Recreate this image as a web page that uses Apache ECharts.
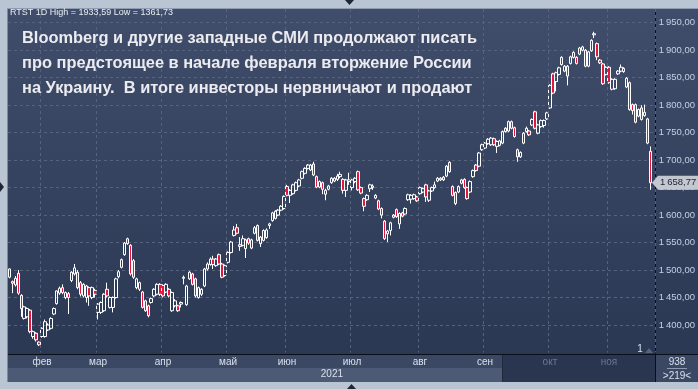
<!DOCTYPE html>
<html><head><meta charset="utf-8">
<script src="https://cdn.jsdelivr.net/npm/echarts@6/dist/echarts.min.js"></script>
<style>html,body{margin:0;padding:0;background:#bac5d3;}#c{width:698px;height:389px;}</style>
</head><body><div id="c"></div>
<script>
// [open, close, low, high]
const candles = [
[1487,1502,1485,1503],[1479,1476,1458,1481],[1473,1485,1470,1489],[1494,1458,1455,1500],[1454,1430,1415,1456],
[1412,1433,1410,1435],[1415,1430,1412,1432],[1427,1388,1385,1429],[1379,1388,1375,1390],[1385,1373,1370,1387],
[1369,1364,1361.73,1370],[1379,1394,1377,1396],[1379,1406,1377,1410],[1391,1400,1389,1403],[1394,1412,1392,1414],
[1420,1430,1418,1432],[1439,1462,1437,1463],[1458,1467,1455,1470],[1468,1459,1456,1474],[1450,1459,1447,1461],
[1457,1450,1420,1460],[1481,1496,1478,1498],[1493,1504,1490,1511],[1496,1468,1465,1500],[1477,1456,1452,1480],
[1453,1474,1450,1476],[1450,1471,1441,1473],[1468,1453,1435,1470],[1450,1468,1447,1470],[1463,1456,1450,1466],
[1423,1438,1410,1440],[1423,1441,1420,1443],[1426,1456,1424,1458],[1465,1453,1450,1477],[1432,1450,1430,1452],
[1432,1450,1423,1452],[1450,1484,1448,1486],[1488,1497,1485,1500],[1505,1519,1503,1521],[1528,1549,1526,1551],
[1557,1548,1546,1559],[1545,1493,1490,1547],[1517,1487,1484,1520],[1468,1484,1465,1486],[1465,1477,1462,1479],
[1460,1432,1430,1462],[1444,1426,1424,1446],[1435,1417,1414,1437],[1441,1448,1439,1450],[1453,1465,1451,1467],
[1456,1474,1454,1476],[1474,1456,1453,1476],[1472,1453,1450,1474],[1460,1474,1458,1476],[1465,1453,1450,1467],
[1426,1459,1424,1461],[1435,1444,1432,1447],[1435,1426,1424,1437],[1438,1441,1432,1443],[1485,1487,1474,1490],
[1437,1471,1435,1473],[1484,1496,1482,1498],[1493,1474,1472,1495],[1484,1453,1450,1486],[1450,1468,1448,1470],
[1456,1465,1453,1467],[1471,1502,1469,1504],[1502,1511,1499,1514],[1510,1520,1508,1523],[1520,1510,1502,1526],
[1508,1520,1506,1522],[1528,1511,1509,1530],[1511,1487,1485,1513],[1490,1508,1488,1510],[1514,1532,1512,1534],
[1532,1551,1530,1553],[1563,1573,1561,1580],[1577,1567,1565,1584],[1546,1543,1535,1560],[1545,1557,1543,1563],
[1539,1555,1522,1557],[1557,1549,1546,1559],[1540,1555,1538,1557],[1567,1577,1565,1580],[1581,1554,1552,1583],
[1548,1560,1542,1562],[1554,1572,1552,1574],[1559,1573,1557,1576],[1581,1584,1575,1586],[1590,1604,1588,1606],
[1594,1607,1592,1609],[1600,1609,1598,1611],[1609,1616,1607,1618],[1612,1634,1610,1636],[1652,1636,1634,1655],
[1636,1645,1622,1647],[1639,1655,1637,1657],[1645,1659,1643,1661],[1653,1664,1651,1666],[1667,1679,1665,1681],
[1676,1685,1674,1687],[1685,1691,1683,1693],[1682,1691,1680,1693],[1693,1673,1671,1697],[1670,1651,1649,1672],
[1651,1661,1649,1663],[1659,1647,1638,1661],[1638,1645,1627,1648],[1647,1653,1645,1655],
[1659,1667,1657,1669],[1662,1667,1660,1669],[1665,1671,1662,1675],[1670,1674,1667,1679],[1665,1645,1639,1667],
[1645,1664,1633,1666],[1661,1664,1655,1677],[1650,1664,1645,1666],[1661,1667,1658,1669],[1679,1646,1644,1681],
[1650,1640,1638,1652],[1630,1616,1607,1632],[1628,1636,1626,1638],[1648,1655,1642,1657],[1650,1653,1646,1656],
[1631,1636,1629,1638],[1626,1611,1609,1628],[1612,1600,1594,1614],[1589,1557,1555,1591],[1566,1571,1551,1573],
[1572,1586,1563,1588],[1596,1600,1594,1602],[1610,1597,1595,1612],[1584,1603,1575,1605],[1604,1598,1596,1606],
[1602,1612,1600,1614],[1628,1637,1626,1639],[1629,1636,1621,1638],[1630,1637,1628,1639],[1633,1626,1624,1635],
[1639,1650,1637,1652],[1642,1648,1640,1650],[1655,1633,1624,1657],[1627,1644,1624,1646],[1644,1650,1642,1652],
[1650,1655,1648,1661],[1662,1667,1660,1669],[1664,1667,1662,1669],[1669,1664,1662,1671],[1671,1689,1669,1691],
[1696,1679,1677,1698],[1652,1636,1634,1654],[1641,1621,1618,1643],[1642,1652,1640,1654],[1658,1664,1656,1666],
[1665,1650,1648,1667],[1650,1630,1628,1652],[1642,1661,1640,1663],[1670,1681,1668,1683],[1691,1681,1679,1693],
[1689,1713,1687,1715],[1719,1728,1717,1730],[1722,1731,1720,1733],
[1730,1738,1728,1740],[1728,1740,1726,1742],[1739,1728,1726,1741],[1725,1734,1713,1736],[1727,1735,1725,1737],
[1731,1752,1729,1754],[1758,1752,1750,1760],[1753,1770,1751,1772],[1770,1758,1756,1772],[1759,1743,1741,1761],
[1719,1706,1697,1721],[1706,1714,1704,1716],[1731,1749,1729,1751],[1752,1758,1750,1761],[1753,1746,1744,1755],
[1764,1774,1762,1776],[1788,1758,1756,1790],[1749,1764,1747,1766],[1761,1772,1759,1774],[1763,1772,1759,1774],
[1775,1786,1773,1788],[1795,1836,1793,1838],[1857,1822,1820,1859],[1843,1859,1825,1861],[1856,1868,1854,1870],
[1874,1887,1872,1889],[1862,1871,1860,1873],[1871,1853,1836,1873],[1876,1888,1874,1890],[1887,1896,1885,1898],
[1887,1876,1874,1889],[1893,1904,1891,1906],[1900,1906,1898,1908],[1900,1871,1869,1902],[1871,1897,1869,1899],
[1899,1918,1897,1920],[1928,1930,1922,1933.59],[1912,1888,1882,1914],[1882,1877,1875,1884],[1875,1839,1837,1877],
[1856,1869,1854,1871],[1869,1841,1839,1871],[1829,1847,1827,1849],[1830,1847,1828,1849],[1857,1862,1855,1864],
[1862,1869,1860,1874],[1867,1861,1859,1869],[1833,1849,1831,1851],[1841,1792,1790,1843],[1801,1790,1783,1803],
[1801,1769,1767,1803],[1780,1792,1778,1794],[1795,1774,1772,1800],[1781,1787,1779,1801],[1775,1731,1729,1777],
[1716,1658.77,1646,1725]
];
const monthLabels = ['фев','мар','апр','май','июн','июл','авг','сен','окт','ноя'];
const monthStartIdx = [11,30,52,74,94,116,139,161,183,203];
const shadedFromIdx = 167;
const headerText = 'RTST 1D High = 1933,59 Low = 1361,73';
const titleLines = [
  'Bloomberg и другие западные СМИ продолжают писать',
  'про предстоящее в начале февраля вторжение России',
  'на Украину.  В итоге инвесторы нервничают и продают'
];
const yearLabel = '2021';
const barsText = '938';
const visibleText = '>219<';
const cornerText = '1';

const categories = candles.map((c, i) => String(i)).concat(['']);
const lastClose = candles[candles.length - 1][1];
function fmt(v) {
  const p = v.toFixed(2).split('.');
  return p[0].replace(/\B(?=(\d{3})+(?!\d))/g, '\u2009') + ',' + p[1];
}
const FONT = '"Liberation Sans", Arial, sans-serif';
const chart = echarts.init(document.getElementById('c'), null, {renderer: 'canvas'});
const option = {
  animation: false,
  backgroundColor: {type: 'linear', x: 0, y: 0, x2: 0, y2: 1, colorStops: [
    {offset: 0, color: '#414e6b'}, {offset: 0.91, color: '#2b3854'}, {offset: 1, color: '#2b3854'}]},
  grid: {left: 8, right: 43, top: 9, height: 343.5},
  xAxis: {
    type: 'category', data: categories, boundaryGap: true, z: 10,
    axisLine: {show: false}, axisTick: {show: false},
    axisLabel: {
      interval: (i) => monthStartIdx.includes(i),
      formatter: (v, i) => {
        const k = monthStartIdx.indexOf(i);
        const t = k >= 0 ? monthLabels[k] : '';
        return i >= shadedFromIdx ? '{g|' + t + '}' : t;
      },
      rich: {g: {color: '#6b7791', fontSize: 10, fontFamily: FONT}},
      margin: 5, fontSize: 10, color: '#d8e0ec', fontFamily: FONT
    },
    splitLine: {show: true, interval: (i) => monthStartIdx.includes(i),
      lineStyle: {color: '#56627e', width: 1, type: [3, 3]}}
  },
  yAxis: {
    type: 'value', position: 'right', min: 1350, max: 1975, interval: 50,
    axisLine: {show: false}, axisTick: {show: false},
    axisLabel: {showMinLabel: false, showMaxLabel: false, margin: 4, color: '#c3d0e4',
      fontSize: 9.5, fontFamily: FONT, formatter: fmt},
    splitLine: {show: true, showMinLine: false, showMaxLine: false,
      lineStyle: {color: '#56627e', width: 1, type: [3, 3]}}
  },
  series: [{
    type: 'candlestick', data: candles, barWidth: 3,
    itemStyle: {color: 'rgba(0,0,0,0)', color0: '#e3163f', borderColor: '#ffffff', borderColor0: '#ffffff', borderWidth: 1}
  }]
};
chart.setOption(option);
const py = chart.convertToPixel({yAxisIndex: 0}, lastClose);
const frameC = '#bac5d3';
const g = [
  {type: 'rect', z: 1, shape: {x: 8, y: 355, width: 494, height: 13}, style: {fill: '#3b4864'}},
  {type: 'rect', z: 1, shape: {x: 8, y: 368, width: 494, height: 14}, style: {fill: '#4d5a76'}},
  {type: 'rect', z: 1, shape: {x: 502, y: 355, width: 153, height: 27}, style: {fill: '#2a3550'}},
  {type: 'rect', z: 1, shape: {x: 656, y: 355, width: 42, height: 27}, style: {fill: '#3b4864'}},
  {type: 'line', z: 5, shape: {x1: 8, y1: 354.5, x2: 698, y2: 354.5}, style: {stroke: '#0b0f18', lineWidth: 1}},
  {type: 'line', z: 5, shape: {x1: 655.5, y1: 9, x2: 655.5, y2: 382}, style: {stroke: '#0b0f18', lineWidth: 1}},
  {type: 'line', z: 5, shape: {x1: 502.5, y1: 355, x2: 502.5, y2: 382}, style: {stroke: '#1f283c', lineWidth: 1}},
  {type: 'line', z: 5, shape: {x1: 667, y1: 368.5, x2: 687, y2: 368.5}, style: {stroke: '#8d99b0', lineWidth: 1}},
  {type: 'rect', z: 20, shape: {x: 0, y: 0, width: 698, height: 9}, style: {fill: frameC}},
  {type: 'rect', z: 20, shape: {x: 0, y: 0, width: 8, height: 389}, style: {fill: frameC}},
  {type: 'rect', z: 20, shape: {x: 0, y: 382, width: 698, height: 7}, style: {fill: frameC}},
  {type: 'line', z: 21, shape: {x1: 7.5, y1: 8, x2: 7.5, y2: 382}, style: {stroke: '#7e8aa0', lineWidth: 1}},
  {type: 'line', z: 21, shape: {x1: 7, y1: 8.5, x2: 698, y2: 8.5}, style: {stroke: '#8f9bb0', lineWidth: 1}},
  {type: 'polygon', z: 22, shape: {points: [[345, 0], [354, 0], [349.5, 5]]}, style: {fill: '#1e2633'}},
  {type: 'polygon', z: 22, shape: {points: [[0, 182], [0, 192], [4, 187]]}, style: {fill: '#1e2633'}},
  {type: 'polygon', z: 22, shape: {points: [[347, 389], [356, 389], [351.5, 384]]}, style: {fill: '#1e2633'}},
  {type: 'polygon', z: 6, shape: {points: [[645, 353], [653, 353], [649, 348]]}, style: {fill: '#56627e'}},
  {type: 'text', z: 25, x: 10, y: 13, style: {text: headerText, font: '9px ' + FONT, fill: '#e8edf5', textVerticalAlign: 'middle'}},
  {type: 'text', z: 25, x: 22, y: 38, style: {text: titleLines[0], font: 'bold 16.4px ' + FONT, fill: '#ececf0', textVerticalAlign: 'middle'}},
  {type: 'text', z: 25, x: 22, y: 63, style: {text: titleLines[1], font: 'bold 16.4px ' + FONT, fill: '#ececf0', textVerticalAlign: 'middle'}},
  {type: 'text', z: 25, x: 22, y: 88, style: {text: titleLines[2], font: 'bold 16.4px ' + FONT, fill: '#ececf0', textVerticalAlign: 'middle'}},
  {type: 'text', z: 25, x: 343, y: 374.5, style: {text: yearLabel, font: '10px ' + FONT, fill: '#d8e0ec', textAlign: 'right', textVerticalAlign: 'middle'}},
  {type: 'text', z: 25, x: 677, y: 362, style: {text: barsText, font: '10px ' + FONT, fill: '#d8e0ec', textAlign: 'center', textVerticalAlign: 'middle'}},
  {type: 'text', z: 25, x: 677, y: 376.5, style: {text: visibleText, font: '10px ' + FONT, fill: '#d8e0ec', textAlign: 'center', textVerticalAlign: 'middle'}},
  {type: 'text', z: 25, x: 640, y: 349, style: {text: cornerText, font: '10px ' + FONT, fill: '#d8e0ec', textAlign: 'center', textVerticalAlign: 'middle'}},
  {type: 'polygon', z: 30, shape: {points: [[652, py], [658, py - 7], [698, py - 7], [698, py + 7], [658, py + 7]]}, style: {fill: '#c3c7cf'}},
  {type: 'text', z: 31, x: 660, y: py, style: {text: fmt(lastClose), font: '9.5px ' + FONT, fill: '#1a2233', textVerticalAlign: 'middle'}}
];
chart.setOption({graphic: g});
</script>
</body></html>
